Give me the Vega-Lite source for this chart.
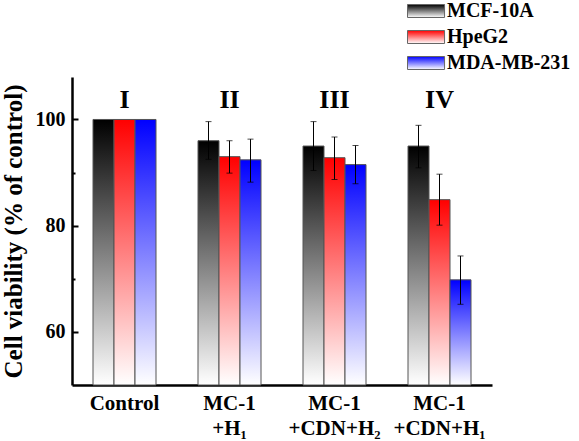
{
  "$schema": "https://vega.github.io/schema/vega-lite/v6.json",
  "width": 420,
  "height": 308,
  "autosize": {"type": "none"},
  "padding": {"left": 72, "top": 77, "right": 87, "bottom": 56},
  "background": "white",
  "config": {
    "view": {"stroke": null},
    "font": "Liberation Serif, Times New Roman, DejaVu Serif, serif",
    "axis": {"domainColor": "black", "tickColor": "black", "labelColor": "black", "titleColor": "black", "labelFont": "Liberation Serif, Times New Roman, DejaVu Serif, serif", "titleFont": "Liberation Serif, Times New Roman, DejaVu Serif, serif", "labelFontWeight": "bold", "titleFontWeight": "bold", "grid": false}
  },
  "datasets": {
    "cells": [
      {"group": "Control", "line": "MCF-10A", "value": 100},
      {"group": "Control", "line": "HpeG2", "value": 100},
      {"group": "Control", "line": "MDA-MB-231", "value": 100},
      {"group": "MC-1|+H₁", "line": "MCF-10A", "value": 96.0, "lo": 92.5, "hi": 99.6},
      {"group": "MC-1|+H₁", "line": "HpeG2", "value": 93.0, "lo": 89.9, "hi": 96.0},
      {"group": "MC-1|+H₁", "line": "MDA-MB-231", "value": 92.4, "lo": 88.2, "hi": 96.3},
      {"group": "MC-1|+CDN+H₂", "line": "MCF-10A", "value": 95.0, "lo": 90.4, "hi": 99.6},
      {"group": "MC-1|+CDN+H₂", "line": "HpeG2", "value": 92.8, "lo": 88.7, "hi": 96.7},
      {"group": "MC-1|+CDN+H₂", "line": "MDA-MB-231", "value": 91.5, "lo": 87.9, "hi": 95.1},
      {"group": "MC-1|+CDN+H₁", "line": "MCF-10A", "value": 95.0, "lo": 90.9, "hi": 98.9},
      {"group": "MC-1|+CDN+H₁", "line": "HpeG2", "value": 84.9, "lo": 80.1, "hi": 89.7},
      {"group": "MC-1|+CDN+H₁", "line": "MDA-MB-231", "value": 69.8, "lo": 65.2, "hi": 74.3}
    ],
    "numerals": [
      {"group": "Control", "numeral": "I"},
      {"group": "MC-1|+H₁", "numeral": "II"},
      {"group": "MC-1|+CDN+H₂", "numeral": "III"},
      {"group": "MC-1|+CDN+H₁", "numeral": "IV"}
    ]
  },
  "encoding": {
    "x": {
      "field": "group", "type": "nominal",
      "scale": {"domain": ["Control", "MC-1|+H₁", "MC-1|+CDN+H₂", "MC-1|+CDN+H₁"], "paddingInner": 0.4, "paddingOuter": 0.2},
      "axis": {"title": null, "labelAngle": 0, "labelExpr": "split(datum.label, '|')", "labelFontSize": 21, "labelLineHeight": 25, "labelPadding": 12, "tickSize": -5, "tickWidth": 2, "domainWidth": 2.5, "labelBaseline": "top"}
    }
  },
  "layer": [
    {
      "data": {"name": "cells"},
      "mark": {"type": "bar", "stroke": "#555", "strokeWidth": 1},
      "encoding": {
        "xOffset": {"field": "line", "type": "nominal", "scale": {"domain": ["MCF-10A", "HpeG2", "MDA-MB-231"], "paddingInner": 0, "paddingOuter": 0}},
        "y": {
          "field": "value", "type": "quantitative",
          "scale": {"domain": [50, 108], "nice": false, "zero": false},
          "axis": {"title": "Cell viability (% of control)", "titleFontSize": 25, "titlePadding": 9, "values": [60, 70, 80, 90, 100], "labelExpr": "datum.value % 20 === 0 ? datum.label : ''", "labelFontSize": 20, "labelPadding": 13, "tickSize": {"condition": {"test": "datum.value % 20 === 0", "value": -6}, "value": -3}, "tickWidth": 2, "domainWidth": 2.5}
        },
        "y2": {"datum": 50},
        "fill": {
          "field": "line", "type": "nominal",
          "scale": {"domain": ["MCF-10A", "HpeG2", "MDA-MB-231"], "range": [
            {"expr": "{gradient: 'linear', x1: 0, y1: 0, x2: 0.00001, y2: 1, stops: [{offset: 0, color: '#000000'}, {offset: 1, color: '#ffffff'}]}"},
            {"expr": "{gradient: 'linear', x1: 0, y1: 0, x2: 0.00001, y2: 1, stops: [{offset: 0, color: '#ff0000'}, {offset: 1, color: '#ffffff'}]}"},
            {"expr": "{gradient: 'linear', x1: 0, y1: 0, x2: 0.00001, y2: 1, stops: [{offset: 0, color: '#0000ff'}, {offset: 1, color: '#ffffff'}]}"}
          ]},
          "legend": {
            "title": null, "orient": "none", "legendX": 332, "legendY": -76, "padding": 0,
            "symbolType": "M-1,-1H4.7V1H-1Z", "symbolSize": 169, "symbolStrokeColor": "#666", "symbolStrokeWidth": 1, "symbolOpacity": 1,
            "labelFont": "Liberation Serif, Times New Roman, DejaVu Serif, serif", "labelFontWeight": "bold", "labelFontSize": 20, "labelColor": "black", "labelOffset": 23, "rowPadding": 6
          }
        }
      }
    },
    {
      "data": {"name": "cells"},
      "transform": [{"filter": "isValid(datum.lo)"}],
      "mark": {"type": "rule", "color": "black", "strokeWidth": 1},
      "encoding": {
        "xOffset": {"field": "line", "type": "nominal"},
        "y": {"field": "lo", "type": "quantitative"},
        "y2": {"field": "hi"}
      }
    },
    {
      "data": {"name": "cells"},
      "transform": [{"filter": "isValid(datum.lo)"}],
      "mark": {"type": "tick", "color": "black", "thickness": 1, "size": 6},
      "encoding": {
        "xOffset": {"field": "line", "type": "nominal"},
        "y": {"field": "lo", "type": "quantitative"}
      }
    },
    {
      "data": {"name": "cells"},
      "transform": [{"filter": "isValid(datum.hi)"}],
      "mark": {"type": "tick", "color": "black", "thickness": 1, "size": 6},
      "encoding": {
        "xOffset": {"field": "line", "type": "nominal"},
        "y": {"field": "hi", "type": "quantitative"}
      }
    },
    {
      "data": {"name": "numerals"},
      "mark": {"type": "text", "font": "Liberation Serif, Times New Roman, DejaVu Serif, serif", "fontWeight": "bold", "fontSize": 26, "baseline": "middle", "color": "black"},
      "encoding": {
        "y": {"datum": 103.6},
        "text": {"field": "numeral"}
      }
    }
  ]
}
